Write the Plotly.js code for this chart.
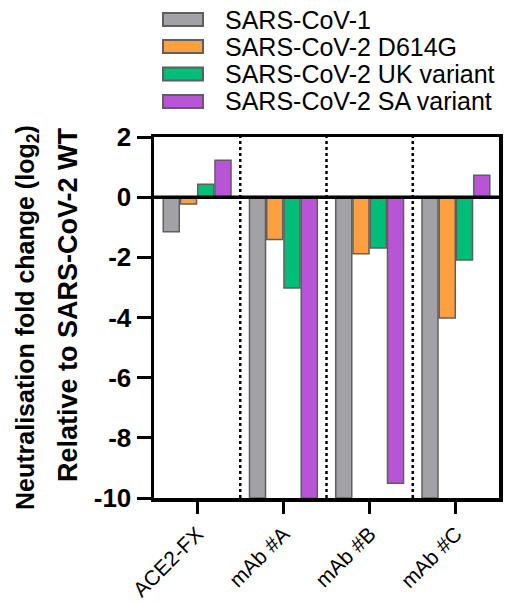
<!DOCTYPE html>
<html>
<head>
<meta charset="utf-8">
<script src="https://cdn.plot.ly/plotly-3.0.1.min.js"></script>
<style>html,body{margin:0;padding:0;background:#fff;}#chart{width:505px;height:603px;}</style>
</head>
<body>
<div id="chart"></div>
<script>
// ---- data ----
const categories = ["ACE2-FX", "mAb #A", "mAb #B", "mAb #C"];
const seriesNames = ["SARS-CoV-1", "SARS-CoV-2 D614G", "SARS-CoV-2 UK variant", "SARS-CoV-2 SA variant"];
const sarsCov1 = [-1.15, -10, -10, -10];
const d614g = [-0.23, -1.41, -1.88, -4.02];
const ukVariant = [0.43, -3.02, -1.69, -2.09];
const saVariant = [1.23, -10, -9.51, 0.73];
const yTickVals = [2, 0, -2, -4, -6, -8, -10];
const yTickText = ["2", "0", "-2", "-4", "-6", "-8", "-10"];

// ---- style ----
const colors = ["#a2a1a6", "#ffa040", "#00be78", "#b855d6"];
const outline = "#5f5f5f";
const FONT = "Arial, 'Liberation Sans', sans-serif";
const W = 505, H = 603;
const M = {l: 154, r: 6, t: 137, b: 105};
const PW = W - M.l - M.r, PH = H - M.t - M.b;
const px = v => (v - M.l) / PW;
const py = v => (H - M.b - v) / PH;

const allSeries = [sarsCov1, d614g, ukVariant, saVariant];
const traces = allSeries.map((vals, i) => ({
  type: "bar",
  name: seriesNames[i],
  x: categories,
  y: vals,
  marker: {color: colors[i], line: {color: outline, width: 1.5}},
  showlegend: false,
  hoverinfo: "skip"
}));

const shapes = [];
const annotations = [];
// dotted separators between categories
for (let i = 0; i < categories.length - 1; i++) {
  shapes.push({type: "line", xref: "x", yref: "paper", x0: i + 0.5, x1: i + 0.5, y0: 0, y1: 1,
    line: {color: "#000", width: 2.5, dash: "3px,3px"}, layer: "above"});
}
// zero line on top
shapes.push({type: "line", xref: "paper", yref: "y", x0: 0, x1: 1, y0: 0, y1: 0,
  line: {color: "#000", width: 3.5}, layer: "above"});

// custom legend
const rowY = [19.5, 46.5, 74, 101.5];
seriesNames.forEach((n, i) => {
  shapes.push({type: "rect", xref: "paper", yref: "paper",
    x0: px(163), x1: px(203), y0: py(rowY[i] + 6.5), y1: py(rowY[i] - 6.5),
    fillcolor: colors[i], line: {color: outline, width: 2}});
  annotations.push({xref: "paper", yref: "paper", x: px(223), y: py(rowY[i]),
    xanchor: "left", yanchor: "middle", showarrow: false, text: n,
    font: {family: FONT, size: 25, color: "#000"}});
});

// y title (two lines)
annotations.push({xref: "paper", yref: "paper", x: px(27), y: py(318), textangle: -90,
  xanchor: "center", yanchor: "middle", showarrow: false,
  text: "<b>Neutralisation fold change (log<sub>2</sub>)</b>",
  font: {family: FONT, size: 25, color: "#000"}});
annotations.push({xref: "paper", yref: "paper", x: px(68), y: py(305), textangle: -90,
  xanchor: "center", yanchor: "middle", showarrow: false,
  text: "<b>Relative to SARS-CoV-2 WT</b>",
  font: {family: FONT, size: 27, color: "#000"}});

const layout = {
  width: W, height: H,
  margin: {l: M.l, r: M.r, t: M.t, b: M.b, pad: 0},
  paper_bgcolor: "#fff", plot_bgcolor: "#fff",
  barmode: "group", bargap: 0.2, bargroupgap: 0.07,
  font: {family: FONT, color: "#000"},
  xaxis: {
    range: [-0.5, 3.5], showgrid: false, zeroline: false,
    showline: true, linecolor: "#000", linewidth: 3.5, mirror: true,
    ticks: "outside", ticklen: 12, tickwidth: 3, tickcolor: "#000",
    tickangle: -45, tickfont: {family: FONT, size: 21, color: "#000"}
  },
  yaxis: {
    range: [-10, 2], showgrid: false, zeroline: false,
    showline: true, linecolor: "#000", linewidth: 3.5, mirror: true,
    ticks: "outside", ticklen: 14, tickwidth: 3, tickcolor: "#000",
    tickmode: "array", tickvals: yTickVals, ticktext: yTickText,
    tickfont: {family: FONT, size: 26, color: "#000", weight: "bold"}
  },
  shapes: shapes,
  annotations: annotations
};

Plotly.newPlot("chart", traces, layout, {displayModeBar: false, staticPlot: true});
</script>
</body>
</html>
